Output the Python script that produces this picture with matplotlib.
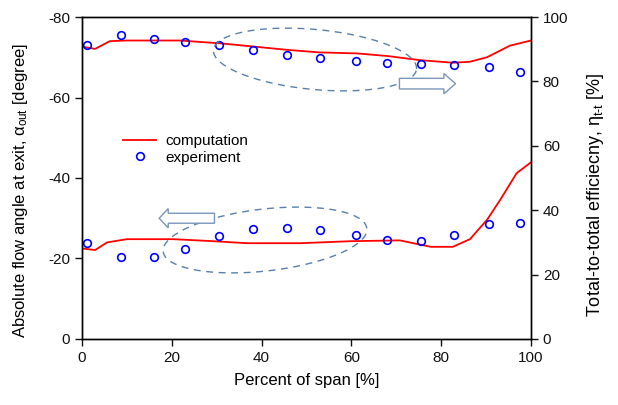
import numpy as np
import matplotlib
matplotlib.use("Agg")
import matplotlib.pyplot as plt
from matplotlib.patches import FancyArrow

plt.rcParams['font.family'] = ['Liberation Sans', 'DejaVu Sans']
plt.rcParams['mathtext.fontset'] = 'custom'
plt.rcParams['mathtext.rm'] = 'Liberation Sans'
plt.rcParams['mathtext.it'] = 'Liberation Sans'
plt.rcParams['axes.unicode_minus'] = False

# experiment span positions
span_exp = [1.2, 8.6, 16.0, 23.0, 30.6, 38.0, 45.6, 53.0, 61.0, 68.0, 75.4, 82.8, 90.7, 97.6]
eff_exp = [91.2, 94.5, 93.2, 92.1, 91.2, 89.8, 88.2, 87.2, 86.4, 85.8, 85.5, 85.1, 84.4, 82.9]
angle_exp = [-23.8, -20.4, -20.4, -22.4, -25.6, -27.3, -27.5, -27.0, -25.8, -24.5, -24.3, -25.8, -28.5, -28.7]

# computation
span_eff = [0, 2.9, 6.2, 10, 21.8, 31, 45.7, 53, 61.2, 67.9, 75.3, 82.6, 86.4, 90.2, 95.3, 100]
eff_cmp = [90.8, 90.1, 92.5, 92.7, 92.7, 91.8, 89.8, 89.0, 88.7, 87.9, 86.6, 85.8, 86.1, 87.5, 91.1, 92.7]
span_ang = [0, 2.9, 5.6, 10, 20.3, 29.2, 36.7, 48.6, 59.9, 70.8, 77.7, 82.6, 86.4, 90.2, 93.1, 96.8, 100]
angle_cmp = [-22.5, -22.1, -24.0, -24.8, -24.8, -24.3, -23.8, -23.8, -24.3, -24.5, -22.9, -22.9, -24.8, -29.6, -34.5, -41.2, -43.9]

fig = plt.figure(figsize=(6.18, 4.05), dpi=100)
ax = fig.add_axes([0.1327, 0.163, 0.7265, 0.795])
ax2 = ax.twinx()

ax.plot(span_ang, angle_cmp, color='#ff0000', lw=1.3, label='computation')
ax.plot(span_exp, angle_exp, 'o', mfc='none', mec='#0000ff', ms=5.5, mew=1.2, label='experiment')
ax2.plot(span_eff, eff_cmp, color='#ff0000', lw=1.3)
ax2.plot(span_exp, eff_exp, 'o', mfc='none', mec='#0000ff', ms=5.5, mew=1.2)

ax.set_xlim(0, 100)
ax.set_ylim(0, -80)
ax.set_xticks([0, 20, 40, 60, 80, 100])
ax.set_yticks([0, -20, -40, -60, -80])
ax2.set_ylim(0, 100)
ax2.set_yticks([0, 20, 40, 60, 80, 100])

for a in (ax, ax2):
    a.tick_params(direction='out', length=5, width=1, labelsize=11, colors='#111111')
    for s in a.spines.values():
        s.set_linewidth(1.0)

ax.set_xlabel('Percent of span [%]', fontsize=12, labelpad=6)
ax.set_ylabel(r'Absolute flow angle at exit, $\alpha_{\rm out}$ [degree]', fontsize=12)
ax2.set_ylabel(r'Total-to-total efficiecny, $\eta_{\rm t\text{-}t}$ [%]', fontsize=13)
ax.yaxis.set_label_coords(-0.115, 0.46)
ax2.yaxis.set_label_coords(1.12, 0.447)

leg = ax.legend(loc='upper left', bbox_to_anchor=(0.06, 0.678), frameon=False, fontsize=11,
                handlelength=2.2, handletextpad=0.6, labelspacing=0.15)

# dashed ellipses, drawn in axes pixel space
W, H = 449.0, 322.0
def ellipse(cx, cy, a, b, ang):
    t = np.linspace(0, 2 * np.pi, 200)
    th = np.deg2rad(ang)
    x = cx + a * np.cos(t) * np.cos(th) - b * np.sin(t) * np.sin(th)
    y = cy + a * np.cos(t) * np.sin(th) + b * np.sin(t) * np.cos(th)
    ax2.plot(x / W, y / H, transform=ax2.transAxes, ls=(0, (5, 4)), color='#5a80aa', lw=1.0)

ellipse(315 - 82, 339 - 59.5, 102, 30, -5.4)
ellipse(265 - 82, 339 - 240, 102.5, 31, 6.5)

# block arrows (right-axis data coords)
ax2.add_patch(FancyArrow(70.7, 79.3, 12.5, 0, width=3.3, head_width=6.3, head_length=2.6,
                         length_includes_head=True, fc='white', ec='#7b96b8', lw=1.0, zorder=3))
ax2.add_patch(FancyArrow(29.5, 37.5, -12.3, 0, width=3.1, head_width=6.0, head_length=2.0,
                         length_includes_head=True, fc='white', ec='#7b96b8', lw=1.0, zorder=3))

fig.savefig('out.png', dpi=100)
